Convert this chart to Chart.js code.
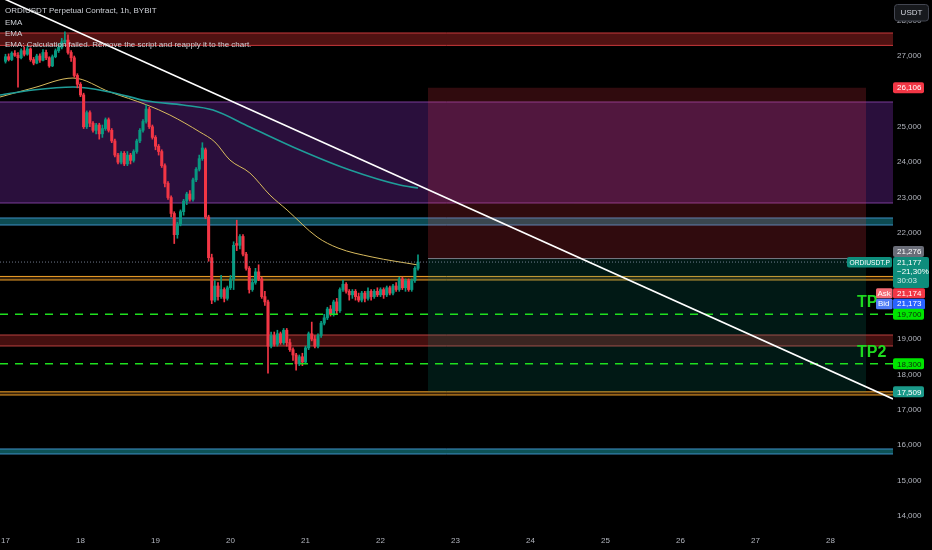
<!DOCTYPE html>
<html>
<head>
<meta charset="utf-8">
<title>ORDIUSDT Perpetual Contract, 1h, BYBIT</title>
<script src="https://cdn.jsdelivr.net/npm/chart.js@4.4.1/dist/chart.umd.min.js"></script>
<style>
html,body{margin:0;padding:0;background:#000;overflow:hidden}
#c{display:block}
</style>
</head>
<body>
<canvas id="c" width="932" height="550"></canvas>
<script>
// ================= DATA =================
// hours since 17th 00:00 (1h candles)
const candleHours = [
  0,1,2,3,4,5,6,7,8,9,
  10,11,12,13,14,15,16,17,18,19,
  20,21,22,23,24,25,26,27,28,29,
  30,31,32,33,34,35,36,37,38,39,
  40,41,42,43,44,45,46,47,48,49,
  50,51,52,53,54,55,56,57,58,59,
  60,61,62,63,64,65,66,67,68,69,
  70,71,72,73,74,75,76,77,78,79,
  80,81,82,83,84,85,86,87,88,89,
  90,91,92,93,94,95,96,97,98,99,
  100,101,102,103,104,105,106,107,108,109,
  110,111,112,113,114,115,116,117,118,119,
  120,121,122,123,124,125,126,127,128,129,
  130,131,132
];
const openPrices = [
  26850,26980,26900,27080,27020,26950,27150,27050,27200,26900,
  26800,27000,26880,27100,26950,26720,26980,27150,27250,27400,
  27450,27100,26950,26450,26200,25900,25000,25400,25100,24900,
  25050,24800,24950,25200,24900,24600,24200,24000,24250,23950,
  24200,24050,24300,24600,24900,25150,25500,25000,24700,24450,
  24300,23900,23400,23000,22550,21950,22250,22600,22900,23100,
  22950,23500,23800,24100,24350,22450,21300,20100,20500,20200,
  20400,20150,20450,20700,21700,21650,21900,21400,21000,20400,
  20600,20900,20700,20200,20050,18800,19100,18850,19150,18900,
  19250,18900,18700,18550,18300,18500,18350,18750,19150,19000,
  18800,19100,19450,19600,19850,19700,20050,19800,20400,20550,
  20350,20250,20350,20200,20100,20300,20150,20350,20200,20350,
  20250,20400,20250,20450,20300,20500,20400,20700,20450,20650,
  20400,20650,21000
];
const highPrices = [
  27050,27060,27120,27150,27100,27200,27260,27280,27230,26960,
  27050,27060,27180,27170,26980,27030,27200,27350,27500,27680,
  27600,27150,27000,26500,26250,25950,25450,25450,25150,25100,
  25100,25050,25250,25250,24950,24650,24250,24300,24300,24300,
  24250,24350,24650,24950,25200,25620,25550,25050,24750,24500,
  24350,23950,23450,23050,22600,22300,22650,22950,23150,23200,
  23550,23850,24200,24550,24400,22500,21400,20650,20600,20800,
  20450,20500,20800,21750,22360,21950,21950,21450,21050,20700,
  21000,21100,20750,20350,20100,19200,19200,19250,19200,19300,
  19300,19000,18750,18600,18550,18600,18800,19200,19480,19100,
  19150,19500,19700,19900,19950,20100,20150,20450,20670,20600,
  20400,20400,20400,20300,20350,20350,20450,20400,20400,20450,
  20450,20450,20500,20500,20550,20600,20750,20750,20700,20700,
  20700,21050,21380
];
const lowPrices = [
  26800,26860,26870,26990,26120,26920,27000,27020,26850,26750,
  26780,26820,26860,26900,26680,26700,26950,27100,27200,27350,
  27050,26850,26400,26100,25850,24950,24950,25000,24850,24800,
  24650,24700,24900,24850,24550,24150,23950,23950,23900,23900,
  23950,24000,24250,24550,24850,25100,24950,24650,24350,24200,
  23850,23300,22950,22450,21700,21850,22200,22500,22800,22900,
  22900,23450,23750,24050,22400,21200,20000,20050,20100,20150,
  20050,20100,20400,20400,21500,21550,21350,20950,20300,20350,
  20550,20650,20150,19950,18040,18750,18800,18800,18850,18850,
  18800,18650,18400,18120,18250,18250,18300,18700,18950,18750,
  18750,19050,19400,19550,19650,19650,19700,19750,20350,20300,
  20100,20150,20100,20050,20050,20050,20100,20100,20150,20200,
  20200,20150,20200,20250,20250,20350,20350,20400,20350,20350,
  20350,20600,20950
];
const closePrices = [
  26980,26900,27080,27020,26950,27150,27050,27200,26900,26800,
  27000,26880,27100,26950,26720,26980,27150,27250,27400,27450,
  27100,26950,26450,26200,25900,25000,25400,25100,24900,25050,
  24800,24950,25200,24900,24600,24200,24000,24250,23950,24200,
  24050,24300,24600,24900,25150,25500,25000,24700,24450,24300,
  23900,23400,23000,22550,21950,22250,22600,22900,23100,22950,
  23500,23800,24100,24400,22450,21300,20100,20500,20200,20400,
  20150,20450,20700,21650,21650,21900,21400,21000,20400,20600,
  20900,20700,20200,20050,18800,19100,18850,19150,18900,19250,
  18900,18700,18550,18300,18500,18350,18750,19150,19000,18800,
  19100,19450,19600,19850,19700,20050,19800,20400,20550,20350,
  20250,20350,20200,20100,20300,20150,20350,20200,20350,20250,
  20400,20250,20450,20300,20500,20400,20700,20450,20650,20400,
  20650,21000,21177
];

const emaFastHours  = [-1.76, 8.8, 21.6, 33.4, 45.3, 52.6, 62.2, 67.0, 71.8, 78.2, 84.6, 90.1, 99.7, 106.4, 117.3, 132];
const emaFastValues = [25841, 26096, 26378, 25983, 25615, 25333, 24852, 24570, 24061, 23694, 23072, 22648, 21885, 21574, 21320, 21094];
const emaSlowHours  = [-1.76, 8.8, 21.6, 33.4, 45.3, 56.8, 66.4, 78.2, 94.2, 110.2, 126.2, 132];
const emaSlowValues = [25898, 26039, 26124, 25983, 25728, 25615, 25474, 24994, 24344, 23778, 23354, 23270];

const trendHours  = [-1.76, 284];
const trendPrices = [28668, 17307];

// horizontal zones: top red, purple supply, cyan, orange, lower red, lower orange, lower teal
const zoneTops    = [27650, 25700, 22422, 20770, 19115, 17509, 15894];
const zoneBottoms = [27300, 22846, 22224, 20670, 18805, 17420, 15753];

const positionHours = [135.2, 275.4];
const stopPrice = 26106;
const entryPrice = 21276;
const targetPrice = 17509;
const tpPrices = [19700, 18300];
const tpLabels = ['TP', 'TP2'];
const lastPrice = 21177;
const askPrice = 21174;
const bidPrice = 21173;
const symbolLabel = 'ORDIUSDT.P';
const changeText = '\u221221,30%';
const countdownText = '30:03';
const currencyLabel = 'USDT';

const priceTicks = [14000, 15000, 16000, 17000, 18000, 19000, 22000, 23000, 24000, 25000, 27000, 28000];
const dayTickHours  = [0, 24, 48, 72, 96, 120, 144, 168, 192, 216, 240, 264];
const dayTickLabels = ['17','18','19','20','21','22','23','24','25','26','27','28'];

const titleLines = [
  'ORDIUSDT Perpetual Contract, 1h, BYBIT',
  'EMA',
  'EMA',
  'EMA: Calculation failed. Remove the script and reapply it to the chart.'
];

// ================= STYLE =================
const X_MIN = -1.76, X_MAX = 284, Y_MIN = 13463, Y_MAX = 28583;
const GREEN = '#089981', RED = '#f23645';
const FONT = '"Liberation Sans", Arial, sans-serif';
const zoneStyles = [
  {fill: 'rgba(178,40,40,0.45)', border: '#c8383a'},
  {fill: '#2a0f3c', border: '#7a3d99'},
  {fill: '#0d4b52', border: '#3d8fc4'},
  {fill: 'rgba(240,150,40,0.22)', border: '#f0a028'},
  {fill: 'rgba(178,40,40,0.38)', border: '#b9403f'},
  {fill: 'rgba(240,150,40,0.22)', border: '#f0a028'},
  {fill: '#0d5256', border: '#3d8fc4'}
];
const headerY = [11, 22.5, 33.5, 45];

const candleColors = closePrices.map((c, i) => c >= openPrices[i] ? GREEN : RED);
const fmt = v => v.toLocaleString('en-US');

const datasets = [];
zoneTops.forEach((top, i) => {
  const st = zoneStyles[i];
  datasets.push({type: 'line', data: [{x: X_MIN, y: top}, {x: X_MAX, y: top}],
    borderColor: st.border, borderWidth: 1, pointRadius: 0, fill: false, order: 100});
  datasets.push({type: 'line', data: [{x: X_MIN, y: zoneBottoms[i]}, {x: X_MAX, y: zoneBottoms[i]}],
    borderColor: st.border, borderWidth: 1, pointRadius: 0, fill: '-1', backgroundColor: st.fill, order: 100});
});
// short position box
datasets.push({type: 'line', data: positionHours.map(h => ({x: h, y: stopPrice})),
  borderColor: 'transparent', borderWidth: 1, pointRadius: 0, fill: false, order: 90});
datasets.push({type: 'line', data: positionHours.map(h => ({x: h, y: entryPrice})),
  borderColor: 'transparent', borderWidth: 1, pointRadius: 0, fill: '-1', backgroundColor: 'rgba(242,54,69,0.2)', order: 90});
datasets.push({type: 'line', data: positionHours.map(h => ({x: h, y: entryPrice})),
  borderColor: 'transparent', borderWidth: 1, pointRadius: 0, fill: false, order: 90});
datasets.push({type: 'line', data: positionHours.map(h => ({x: h, y: targetPrice})),
  borderColor: 'transparent', borderWidth: 1, pointRadius: 0, fill: '-1', backgroundColor: 'rgba(8,153,129,0.16)', order: 90});
datasets.push({type: 'line', data: positionHours.map(h => ({x: h, y: entryPrice})),
  borderColor: '#787b86', borderWidth: 1, pointRadius: 0, fill: false, order: 85});
// EMAs
datasets.push({type: 'line', data: emaSlowHours.map((h, i) => ({x: h, y: emaSlowValues[i]})),
  borderColor: '#1f9d99', borderWidth: 1.6, pointRadius: 0, fill: false, tension: 0.4, cubicInterpolationMode: 'monotone', order: 50});
datasets.push({type: 'line', data: emaFastHours.map((h, i) => ({x: h, y: emaFastValues[i]})),
  borderColor: '#d8bb5e', borderWidth: 1, pointRadius: 0, fill: false, tension: 0.4, cubicInterpolationMode: 'monotone', order: 50});
// candles: wicks then bodies
datasets.push({type: 'bar', data: candleHours.map((h, i) => ({x: h, y: [lowPrices[i], highPrices[i]]})),
  backgroundColor: candleColors, barThickness: 1, grouped: false, borderWidth: 0, order: 40});
datasets.push({type: 'bar', data: candleHours.map((h, i) => ({x: h, y: [openPrices[i], closePrices[i]]})),
  backgroundColor: candleColors, barThickness: 2.4, grouped: false, borderWidth: 0, minBarLength: 1, order: 30});
// last price dotted line
datasets.push({type: 'line', data: [{x: X_MIN, y: lastPrice}, {x: X_MAX, y: lastPrice}],
  borderColor: 'rgba(150,160,185,0.75)', borderWidth: 1, borderDash: [1, 2], pointRadius: 0, fill: false, order: 20});
// TP dashed lines
tpPrices.forEach(p => {
  datasets.push({type: 'line', data: [{x: X_MIN, y: p}, {x: X_MAX, y: p}],
    borderColor: '#1fe01f', borderWidth: 1.5, borderDash: [8, 7], pointRadius: 0, fill: false, order: 10});
});
// trend line
datasets.push({type: 'line', data: trendHours.map((h, i) => ({x: h, y: trendPrices[i]})),
  borderColor: '#ffffff', borderWidth: 1.6, pointRadius: 0, fill: false, order: 5});

function rbox(ctx, x, y, w, h, r, color) {
  ctx.fillStyle = color;
  ctx.beginPath();
  if (ctx.roundRect) ctx.roundRect(x, y, w, h, r); else ctx.rect(x, y, w, h);
  ctx.fill();
}
function fitText(ctx, txt, x, y, maxW) {
  const w = ctx.measureText(txt).width;
  const k = w > maxW ? maxW / w : 1;
  ctx.save();
  ctx.translate(x, y);
  ctx.scale(k, 1);
  ctx.fillText(txt, 0, 0);
  ctx.restore();
}

const overlay = {
  id: 'overlay',
  afterDraw(chart) {
    const ctx = chart.ctx;
    const ys = chart.scales.y;
    const Y = p => ys.getPixelForValue(p);
    ctx.save();
    // header text
    ctx.font = '8px ' + FONT;
    ctx.fillStyle = '#cdd0d6';
    ctx.textAlign = 'left';
    ctx.textBaseline = 'middle';
    titleLines.forEach((t, i) => ctx.fillText(t, 5, headerY[i]));

    // TP texts
    ctx.font = 'bold 16px ' + FONT;
    ctx.fillStyle = '#1fd81f';
    ctx.textBaseline = 'alphabetic';
    tpLabels.forEach((t, i) => ctx.fillText(t, 857, Y(tpPrices[i]) - 7));

    const AX = 893;
    const label = (txt, cy, bg, fg, w) => {
      rbox(ctx, AX, cy - 5.5, w || 31, 11, 2, bg);
      ctx.font = '8px ' + FONT;
      ctx.fillStyle = fg || '#ffffff';
      ctx.textBaseline = 'middle';
      ctx.textAlign = 'left';
      ctx.fillText(txt, AX + 4, cy + 0.5);
    };
    // stop
    label(fmt(stopPrice), Y(stopPrice), RED);
    // entry (shifted up to avoid overlap)
    label(fmt(entryPrice), Y(entryPrice) - 7, '#6a6d78');
    // last price block
    const top = Y(lastPrice) - 5;
    rbox(ctx, AX, top, 36, 31, 2, '#0e8d7c');
    rbox(ctx, 847, top, 45, 10.5, 2, '#0e8d7c');
    ctx.font = '8px ' + FONT;
    ctx.fillStyle = '#ffffff';
    ctx.textBaseline = 'middle';
    ctx.textAlign = 'left';
    ctx.fillText(fmt(lastPrice), AX + 4, top + 5.5);
    ctx.fillText(changeText, AX + 4, top + 14.5);
    ctx.fillStyle = 'rgba(255,255,255,0.8)';
    ctx.fillText(countdownText, AX + 4, top + 24);
    ctx.fillStyle = '#ffffff';
    fitText(ctx, symbolLabel, 849.5, top + 5.5, 40.5);
    // ask / bid
    const askTop = top + 31.3;
    rbox(ctx, 876, askTop, 16.5, 10, 1.5, '#f46a74');
    rbox(ctx, AX, askTop, 32, 10, 1.5, RED);
    const bidTop = askTop + 10.3;
    rbox(ctx, 876, bidTop, 16.5, 10.5, 1.5, '#4f7cf6');
    rbox(ctx, AX, bidTop, 32, 10.5, 1.5, '#2962ff');
    ctx.fillStyle = '#ffffff';
    fitText(ctx, 'Ask', 877.5, askTop + 5.3, 14);
    ctx.fillText(fmt(askPrice), AX + 4, askTop + 5.3);
    fitText(ctx, 'Bid', 878, bidTop + 5.5, 14);
    ctx.fillText(fmt(bidPrice), AX + 4, bidTop + 5.5);
    // TP price labels
    tpPrices.forEach(p => label(fmt(p), Y(p), '#00e600', '#0d2a0d'));
    // target
    label(fmt(targetPrice), Y(targetPrice), '#1b9a8a');

    // currency button
    ctx.fillStyle = '#17191d';
    ctx.strokeStyle = '#434651';
    ctx.lineWidth = 1;
    ctx.beginPath();
    if (ctx.roundRect) ctx.roundRect(894.5, 4.5, 34, 16.5, 3); else ctx.rect(894.5, 4.5, 34, 16.5);
    ctx.fill();
    ctx.stroke();
    ctx.fillStyle = '#d1d4dc';
    ctx.font = '8px ' + FONT;
    ctx.textAlign = 'center';
    ctx.fillText(currencyLabel, 911.5, 13);
    ctx.restore();
  }
};

new Chart(document.getElementById('c'), {
  type: 'line',
  data: {datasets},
  options: {
    responsive: false,
    animation: false,
    devicePixelRatio: 1,
    events: [],
    layout: {padding: 0},
    plugins: {legend: {display: false}, tooltip: {enabled: false}},
    scales: {
      x: {
        type: 'linear', min: X_MIN, max: X_MAX, offset: false, position: 'bottom',
        grid: {display: false, drawTicks: false}, border: {display: false},
        afterBuildTicks: s => { s.ticks = dayTickHours.map(v => ({value: v})); },
        afterFit: s => { s.height = 15; s.paddingLeft = 0; s.paddingRight = 0; },
        ticks: {
          color: '#b2b5be', font: {family: FONT, size: 8}, padding: 1,
          maxRotation: 0, minRotation: 0, autoSkip: false,
          callback: (v, i) => dayTickLabels[i]
        }
      },
      y: {
        type: 'linear', position: 'right', min: Y_MIN, max: Y_MAX,
        grid: {display: false, drawTicks: false}, border: {display: false},
        afterBuildTicks: s => { s.ticks = priceTicks.map(v => ({value: v})); },
        afterFit: s => { s.width = 39; s.paddingTop = 0; s.paddingBottom = 0; },
        ticks: {
          color: '#b2b5be', font: {family: FONT, size: 8}, padding: 4, autoSkip: false,
          callback: v => fmt(v)
        }
      }
    }
  },
  plugins: [overlay]
});
</script>
</body>
</html>
